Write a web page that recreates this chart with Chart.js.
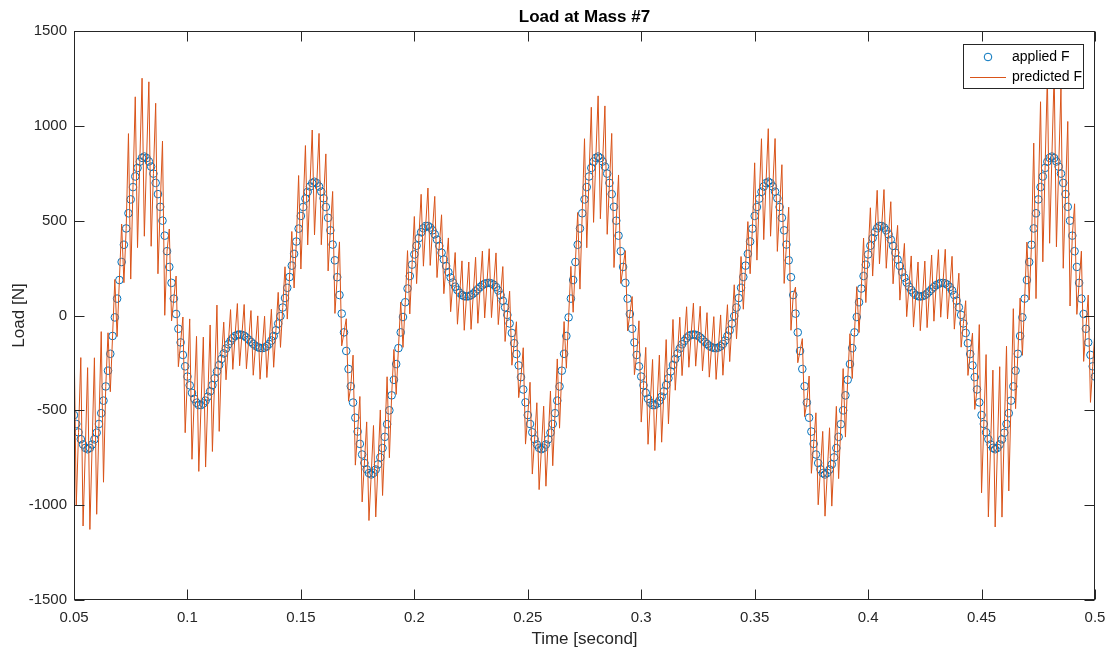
<!DOCTYPE html>
<html><head><meta charset="utf-8">
<script src="https://cdn.jsdelivr.net/npm/chart.js@4/dist/chart.umd.min.js"></script>
<style>html,body{margin:0;padding:0;background:#fff;}#wrap{width:1109px;height:655px;}</style>
</head><body><div id="wrap"><canvas id="c" width="1109" height="655"></canvas></div>
<script>
const chartTitle = 'Load at Mass #7';
const xAxisTitle = 'Time [second]';
const yAxisTitle = 'Load [N]';
const seriesNames = ['applied F', 'predicted F'];
const xTicks = [0.05,0.1,0.15,0.2,0.25,0.3,0.35,0.4,0.45,0.5];
const xTickLabels = ['0.05','0.1','0.15','0.2','0.25','0.3','0.35','0.4','0.45','0.5'];
const yTicks = [-1500,-1000,-500,0,500,1000,1500];
const yTickLabels = ['-1500','-1000','-500','0','500','1000','1500'];

const time = [
0.050,0.051,0.052,0.053,0.054,0.055,0.056,0.057,0.058,0.059,
0.060,0.061,0.062,0.063,0.064,0.065,0.066,0.067,0.068,0.069,
0.070,0.071,0.072,0.073,0.074,0.075,0.076,0.077,0.078,0.079,
0.080,0.081,0.082,0.083,0.084,0.085,0.086,0.087,0.088,0.089,
0.090,0.091,0.092,0.093,0.094,0.095,0.096,0.097,0.098,0.099,
0.100,0.101,0.102,0.103,0.104,0.105,0.106,0.107,0.108,0.109,
0.110,0.111,0.112,0.113,0.114,0.115,0.116,0.117,0.118,0.119,
0.120,0.121,0.122,0.123,0.124,0.125,0.126,0.127,0.128,0.129,
0.130,0.131,0.132,0.133,0.134,0.135,0.136,0.137,0.138,0.139,
0.140,0.141,0.142,0.143,0.144,0.145,0.146,0.147,0.148,0.149,
0.150,0.151,0.152,0.153,0.154,0.155,0.156,0.157,0.158,0.159,
0.160,0.161,0.162,0.163,0.164,0.165,0.166,0.167,0.168,0.169,
0.170,0.171,0.172,0.173,0.174,0.175,0.176,0.177,0.178,0.179,
0.180,0.181,0.182,0.183,0.184,0.185,0.186,0.187,0.188,0.189,
0.190,0.191,0.192,0.193,0.194,0.195,0.196,0.197,0.198,0.199,
0.200,0.201,0.202,0.203,0.204,0.205,0.206,0.207,0.208,0.209,
0.210,0.211,0.212,0.213,0.214,0.215,0.216,0.217,0.218,0.219,
0.220,0.221,0.222,0.223,0.224,0.225,0.226,0.227,0.228,0.229,
0.230,0.231,0.232,0.233,0.234,0.235,0.236,0.237,0.238,0.239,
0.240,0.241,0.242,0.243,0.244,0.245,0.246,0.247,0.248,0.249,
0.250,0.251,0.252,0.253,0.254,0.255,0.256,0.257,0.258,0.259,
0.260,0.261,0.262,0.263,0.264,0.265,0.266,0.267,0.268,0.269,
0.270,0.271,0.272,0.273,0.274,0.275,0.276,0.277,0.278,0.279,
0.280,0.281,0.282,0.283,0.284,0.285,0.286,0.287,0.288,0.289,
0.290,0.291,0.292,0.293,0.294,0.295,0.296,0.297,0.298,0.299,
0.300,0.301,0.302,0.303,0.304,0.305,0.306,0.307,0.308,0.309,
0.310,0.311,0.312,0.313,0.314,0.315,0.316,0.317,0.318,0.319,
0.320,0.321,0.322,0.323,0.324,0.325,0.326,0.327,0.328,0.329,
0.330,0.331,0.332,0.333,0.334,0.335,0.336,0.337,0.338,0.339,
0.340,0.341,0.342,0.343,0.344,0.345,0.346,0.347,0.348,0.349,
0.350,0.351,0.352,0.353,0.354,0.355,0.356,0.357,0.358,0.359,
0.360,0.361,0.362,0.363,0.364,0.365,0.366,0.367,0.368,0.369,
0.370,0.371,0.372,0.373,0.374,0.375,0.376,0.377,0.378,0.379,
0.380,0.381,0.382,0.383,0.384,0.385,0.386,0.387,0.388,0.389,
0.390,0.391,0.392,0.393,0.394,0.395,0.396,0.397,0.398,0.399,
0.400,0.401,0.402,0.403,0.404,0.405,0.406,0.407,0.408,0.409,
0.410,0.411,0.412,0.413,0.414,0.415,0.416,0.417,0.418,0.419,
0.420,0.421,0.422,0.423,0.424,0.425,0.426,0.427,0.428,0.429,
0.430,0.431,0.432,0.433,0.434,0.435,0.436,0.437,0.438,0.439,
0.440,0.441,0.442,0.443,0.444,0.445,0.446,0.447,0.448,0.449,
0.450,0.451,0.452,0.453,0.454,0.455,0.456,0.457,0.458,0.459,
0.460,0.461,0.462,0.463,0.464,0.465,0.466,0.467,0.468,0.469,
0.470,0.471,0.472,0.473,0.474,0.475,0.476,0.477,0.478,0.479,
0.480,0.481,0.482,0.483,0.484,0.485,0.486,0.487,0.488,0.489,
0.490,0.491,0.492,0.493,0.494,0.495,0.496,0.497,0.498,0.499,
0.500];

const appliedF = [
-525,-572,-616,-652,-680,-698,-705,-698,-680,-653,
-618,-572,-515,-449,-374,-291,-202,-108,-10,89,
187,282,373,459,539,612,677,733,778,811,
831,838,830,812,785,748,699,640,573,500,
421,339,256,172,89,8,-70,-142,-208,-268,
-322,-368,-408,-439,-460,-472,-472,-464,-449,-428,
-400,-367,-331,-295,-261,-229,-200,-174,-152,-134,
-119,-108,-102,-100,-102,-107,-116,-127,-139,-150,
-160,-167,-171,-172,-169,-162,-150,-132,-108,-78,
-43,-3,42,92,146,203,263,325,390,458,
525,572,616,652,680,698,705,698,680,653,
618,572,515,449,374,291,202,108,10,-89,
-187,-282,-373,-459,-539,-612,-677,-733,-778,-811,
-831,-838,-830,-812,-785,-748,-699,-640,-573,-500,
-421,-339,-256,-172,-89,-8,70,142,208,268,
322,368,408,439,460,472,472,464,449,428,
400,367,331,295,261,229,200,174,152,134,
119,108,102,100,102,107,116,127,139,150,
160,167,171,172,169,162,150,132,108,78,
43,3,-42,-92,-146,-203,-263,-325,-390,-458,
-525,-572,-616,-652,-680,-698,-705,-698,-680,-653,
-618,-572,-515,-449,-374,-291,-202,-108,-10,89,
187,282,373,459,539,612,677,733,778,811,
831,838,830,812,785,748,699,640,573,500,
421,339,256,172,89,8,-70,-142,-208,-268,
-322,-368,-408,-439,-460,-472,-472,-464,-449,-428,
-400,-367,-331,-295,-261,-229,-200,-174,-152,-134,
-119,-108,-102,-100,-102,-107,-116,-127,-139,-150,
-160,-167,-171,-172,-169,-162,-150,-132,-108,-78,
-43,-3,42,92,146,203,263,325,390,458,
525,572,616,652,680,698,705,698,680,653,
618,572,515,449,374,291,202,108,10,-89,
-187,-282,-373,-459,-539,-612,-677,-733,-778,-811,
-831,-838,-830,-812,-785,-748,-699,-640,-573,-500,
-421,-339,-256,-172,-89,-8,70,142,208,268,
322,368,408,439,460,472,472,464,449,428,
400,367,331,295,261,229,200,174,152,134,
119,108,102,100,102,107,116,127,139,150,
160,167,171,172,169,162,150,132,108,78,
43,3,-42,-92,-146,-203,-263,-325,-390,-458,
-525,-572,-616,-652,-680,-698,-705,-698,-680,-653,
-618,-572,-515,-449,-374,-291,-202,-108,-10,89,
187,282,373,459,539,612,677,733,778,811,
831,838,830,812,785,748,699,640,573,500,
421,339,256,172,89,8,-70,-142,-208,-268,
-322];

const predictedF = [
-95,-1002,-616,-222,-1110,-698,-275,-1128,-680,-223,
-1048,-572,-85,-879,-374,-91,-402,-108,190,-111,
187,482,173,459,959,192,677,1153,358,811,
1251,418,830,1232,365,748,1119,220,573,920,
1,339,456,-28,89,208,-270,-142,-8,-618,
-322,-18,-758,-439,-110,-822,-472,-114,-799,-428,
-50,-717,-331,55,-611,-229,-35,-339,-152,31,
-284,-108,63,-265,-102,58,-281,-127,26,-315,
-160,-2,-336,-172,-4,-327,-150,33,-273,-78,
122,-168,42,257,-19,203,443,145,390,738,
245,572,896,372,680,978,425,698,960,373,
618,852,235,449,654,11,202,388,-160,-89,
-17,-452,-373,-209,-789,-612,-427,-983,-778,-561,
-1081,-838,-580,-1062,-785,-498,-949,-640,-323,-750,
-421,-179,-416,-172,71,-168,70,342,8,268,
522,168,408,639,260,472,672,264,449,628,
200,367,531,115,261,409,20,174,332,-46,
119,288,-78,100,282,-73,116,307,-41,150,
340,-13,171,352,-11,162,330,-48,108,258,
-137,3,128,-262,-146,-33,-433,-325,-170,-678,
-525,-352,-836,-652,-460,-918,-705,-478,-900,-653,
-398,-792,-515,-229,-594,-291,-32,-278,-10,259,
17,282,543,139,539,932,357,733,1098,491,
831,1158,510,812,1105,428,699,960,253,500,
741,169,256,342,-81,8,100,-312,-208,-28,
-562,-368,-168,-679,-460,-232,-712,-464,-209,-668,
-400,-127,-571,-295,-21,-394,-200,-9,-317,-134,
46,-273,-102,65,-267,-107,49,-292,-139,15,
-325,-167,-6,-337,-169,3,-315,-132,57,-243,
-43,162,-123,92,311,33,263,495,220,458,
805,292,616,932,400,698,985,418,680,933,
338,572,795,169,374,571,-78,108,150,-249,
-187,-122,-533,-459,-319,-832,-677,-513,-998,-811,
-611,-1058,-830,-592,-1005,-748,-479,-860,-573,-280,
-641,-339,-96,-332,-89,152,-90,142,408,68,
322,568,208,439,660,272,472,664,249,428,
600,167,331,475,81,229,380,-6,152,314,
-61,108,282,-80,102,287,-64,127,319,-30,
160,347,-9,172,349,-18,150,312,-72,78,
223,-167,-42,78,-316,-203,-93,-495,-390,-48,
-935,-572,-206,-1062,-680,-288,-1115,-698,-270,-1063,
-618,-162,-925,-449,36,-491,-202,92,-210,89,
387,82,373,909,89,612,1127,283,778,1261,
381,838,1280,362,785,1198,249,640,1023,50,
421,589,6,172,339,-242,-70,108,-458,-268,
-72];

const BLUE = '#0072BD', ORANGE = '#D95319', INK = '#262626';
const FONT = '"Liberation Sans", Arial, Helvetica, sans-serif';
Chart.defaults.font.family = FONT;
Chart.defaults.color = INK;

const framePlugin = {
  id: 'matlabFrame',
  afterDraw(chart) {
    const ctx = chart.ctx, a = chart.chartArea;
    const xs = chart.scales.x, ys = chart.scales.y;
    const L = Math.round(a.left) + 0.5, R = Math.round(a.right) - 0.5;
    const T = Math.round(a.top) + 0.5, B = Math.round(a.bottom) - 0.5;
    ctx.save();
    ctx.strokeStyle = INK; ctx.lineWidth = 1;
    ctx.strokeRect(L, T, R - L, B - T);
    const tl = 10;
    ctx.beginPath();
    xTicks.forEach(v => {
      const px = Math.round(xs.getPixelForValue(v)) + 0.5;
      ctx.moveTo(px, B); ctx.lineTo(px, B - tl);
      ctx.moveTo(px, T); ctx.lineTo(px, T + tl);
    });
    yTicks.forEach(v => {
      const py = Math.round(ys.getPixelForValue(v)) + 0.5;
      ctx.moveTo(L, py); ctx.lineTo(L + tl, py);
      ctx.moveTo(R, py); ctx.lineTo(R - tl, py);
    });
    ctx.stroke();
    ctx.fillStyle = '#000';
    ctx.font = 'bold 17px ' + FONT;
    ctx.textAlign = 'center'; ctx.textBaseline = 'middle';
    ctx.fillText(chartTitle, (a.left + a.right) / 2, 17);
    const lx = 963.5, ly = 44.5, lw = 120, lh = 44;
    ctx.fillStyle = '#fff';
    ctx.fillRect(lx, ly, lw, lh);
    ctx.strokeStyle = INK; ctx.strokeRect(lx, ly, lw, lh);
    ctx.strokeStyle = BLUE; ctx.lineWidth = 1;
    ctx.beginPath(); ctx.arc(988, 57, 3.8, 0, Math.PI * 2); ctx.stroke();
    ctx.strokeStyle = ORANGE;
    ctx.beginPath(); ctx.moveTo(970, 77.5); ctx.lineTo(1006, 77.5); ctx.stroke();
    ctx.fillStyle = '#000';
    ctx.font = '14px ' + FONT;
    ctx.textAlign = 'left'; ctx.textBaseline = 'middle';
    ctx.fillText(seriesNames[0], 1012, 57);
    ctx.fillText(seriesNames[1], 1012, 77);
    ctx.restore();
  }
};

new Chart(document.getElementById('c'), {
  type: 'scatter',
  data: {
    datasets: [
      {
        label: seriesNames[0],
        data: time.map((t, i) => ({x: t, y: appliedF[i]})),
        showLine: false,
        pointStyle: 'circle',
        pointRadius: 3.8,
        pointBorderWidth: 1,
        pointBorderColor: BLUE,
        pointBackgroundColor: 'rgba(0,0,0,0)',
        order: 2
      },
      {
        label: seriesNames[1],
        data: time.map((t, i) => ({x: t, y: predictedF[i]})),
        showLine: true,
        borderColor: ORANGE,
        borderWidth: 1,
        pointRadius: 0,
        tension: 0,
        order: 1
      }
    ]
  },
  options: {
    responsive: false,
    animation: false,
    devicePixelRatio: 1,
    layout: {padding: {top: 31, right: 14, left: 0, bottom: 0}},
    plugins: {legend: {display: false}, title: {display: false}, tooltip: {enabled: false}},
    scales: {
      x: {
        type: 'linear', min: 0.05, max: 0.5,
        afterBuildTicks: s => { s.ticks = xTicks.map(v => ({value: v})); },
        afterFit: s => { s.height = 55; s.paddingLeft = 0; s.paddingRight = 0; },
        grid: {display: false, drawTicks: false},
        border: {display: false},
        ticks: {callback: (v, i) => xTickLabels[i], font: {size: 15}, color: INK, padding: 9, maxRotation: 0, autoSkip: false},
        title: {display: true, text: xAxisTitle, font: {size: 17}, color: INK, padding: {top: 0, bottom: 5}}
      },
      y: {
        type: 'linear', min: -1500, max: 1500,
        afterBuildTicks: s => { s.ticks = yTicks.map(v => ({value: v})); },
        afterFit: s => { s.width = 74; s.paddingTop = 0; s.paddingBottom = 0; },
        grid: {display: false, drawTicks: false},
        border: {display: false},
        ticks: {callback: (v, i) => yTickLabels[i], font: {size: 15}, color: INK, padding: 7, autoSkip: false},
        title: {display: true, text: yAxisTitle, font: {size: 17}, color: INK, padding: {top: 9, bottom: 0}}
      }
    }
  },
  plugins: [framePlugin]
});
</script>
</body></html>
